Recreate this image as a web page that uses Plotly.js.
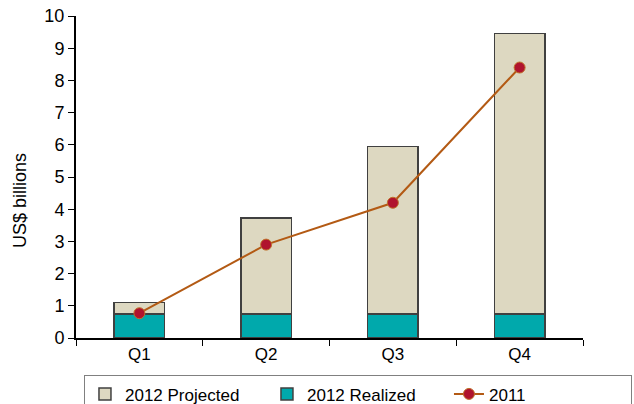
<!DOCTYPE html>
<html><head><meta charset="utf-8">
<script src="https://cdn.plot.ly/plotly-3.0.1.min.js"></script>
<style>html,body{margin:0;padding:0;background:#fff}#chart{width:634px;height:404px}</style>
</head><body><div id="chart"></div>
<script>
const quarters = ['Q1','Q2','Q3','Q4'];
const realized2012 = [0.75, 0.75, 0.75, 0.75];
const projected2012 = [0.35, 2.97, 5.2, 8.7];
const actual2011 = [0.77, 2.9, 4.2, 8.4];
const yTicks = [0,1,2,3,4,5,6,7,8,9,10];
const yTitle = 'US$ billions';

const font = {family: '"Liberation Sans", Arial, sans-serif', color: '#000'};
const traces = [
  {type:'bar', name:'2012 Realized', x:quarters, y:realized2012, legendrank:2,
   marker:{color:'#00A9AC', line:{color:'#404040', width:1.5}}, hoverinfo:'skip'},
  {type:'bar', name:'2012 Projected', x:quarters, y:projected2012, legendrank:1,
   marker:{color:'#DDD8C1', line:{color:'#404040', width:1.5}}, hoverinfo:'skip'},
  {type:'scatter', mode:'lines+markers', name:'2011', x:quarters, y:actual2011, legendrank:3,
   line:{color:'#B35A14', width:2},
   marker:{color:'#B0142E', size:11, line:{color:'#C0702A', width:1}}}
];
const layout = {
  width:634, height:404,
  margin:{l:76, r:51, t:16, b:66, autoexpand:false},
  paper_bgcolor:'#fff', plot_bgcolor:'#fff',
  barmode:'stack', bargap:0.6,
  font: Object.assign({size:17}, font),
  showlegend:true,
  legend:{orientation:'h', x:1.0966, xanchor:'right', y:-0.116, yanchor:'top',
    bordercolor:'#808080', borderwidth:1, traceorder:'normal',
    entrywidth:137, entrywidthmode:'pixels',
    font:Object.assign({size:17}, font)},
  xaxis:{showline:true, linecolor:'#000', linewidth:2, ticks:'outside', ticklen:6,
    tickcolor:'#000', tickwidth:1, tickson:'boundaries', showgrid:false, zeroline:false,
    tickfont:Object.assign({size:17}, font), range:[-0.5,3.5]},
  yaxis:{range:[0,10], tickvals:yTicks, showline:true, linecolor:'#000', linewidth:2,
    ticks:'outside', ticklen:6, tickcolor:'#000', tickwidth:1, showgrid:false, zeroline:false,
    tickfont:Object.assign({size:18}, font)},
  annotations:[{text:yTitle, xref:'paper', yref:'paper', x:-0.1105, y:0.4286,
    xanchor:'center', yanchor:'middle', textangle:-90, showarrow:false,
    font:Object.assign({size:18}, font)}]
};
Plotly.newPlot('chart', traces, layout, {displayModeBar:false, staticPlot:true});
</script></body></html>
